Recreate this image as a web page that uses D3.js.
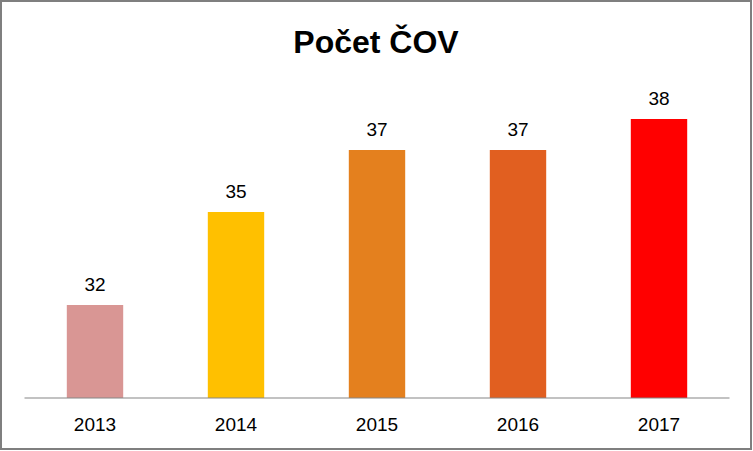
<!DOCTYPE html>
<html><head><meta charset="utf-8">
<script src="https://cdn.jsdelivr.net/npm/d3@7"></script>
<style>html,body{margin:0;padding:0;background:#fff;}svg{display:block;}</style>
</head><body>
<svg id="chart" width="753" height="451"></svg>
<script>
const title = "Počet ČOV";
const categories = ["2013", "2014", "2015", "2016", "2017"];
const values = [32, 35, 37, 37, 38];
const barColors = ["#D99694", "#FFC000", "#E4801E", "#E15F20", "#FF0000"];
const yMin = 29, yMax = 40;

const svg = d3.select("#chart");
const W = 753, H = 451;
const font = "'Liberation Sans', Arial, sans-serif";

svg.append("rect").attr("x", 1).attr("y", 1).attr("width", W - 3).attr("height", H - 3)
  .attr("fill", "#fff").attr("stroke", "#7f7f7f").attr("stroke-width", 2);

const x = d3.scaleBand().domain(categories).range([24.5, 729.5]).paddingInner(0.6).paddingOuter(0.3);
const y = d3.scaleLinear().domain([yMin, yMax]).range([398, 57]);

svg.append("text").attr("x", 376).attr("y", 53).attr("text-anchor", "middle")
  .attr("font-family", font).attr("font-weight", "bold").attr("font-size", 32)
  .attr("fill", "#000").text(title);

const data = categories.map((c, i) => ({c, v: values[i], col: barColors[i]}));

svg.selectAll("rect.bar").data(data).join("rect").attr("class", "bar")
  .attr("x", d => x(d.c)).attr("width", x.bandwidth())
  .attr("y", d => y(d.v)).attr("height", d => y(yMin) - y(d.v))
  .attr("fill", d => d.col);

svg.selectAll("text.val").data(data).join("text").attr("class", "val")
  .attr("x", d => x(d.c) + x.bandwidth() / 2).attr("y", d => y(d.v) - 14)
  .attr("text-anchor", "middle").attr("font-family", font).attr("font-size", 19)
  .attr("fill", "#000").text(d => d.v);

const axis = d3.axisBottom(x).tickSize(0).tickPadding(20);
const g = svg.append("g").attr("transform", `translate(0,${y(yMin)})`).call(axis);
g.select(".domain").attr("stroke", "#868686").attr("stroke-width", 1.2).attr("d", "M24.5,0H729.5");
g.selectAll("text").attr("font-family", font).attr("font-size", 19).attr("fill", "#000");
</script>
</body></html>
